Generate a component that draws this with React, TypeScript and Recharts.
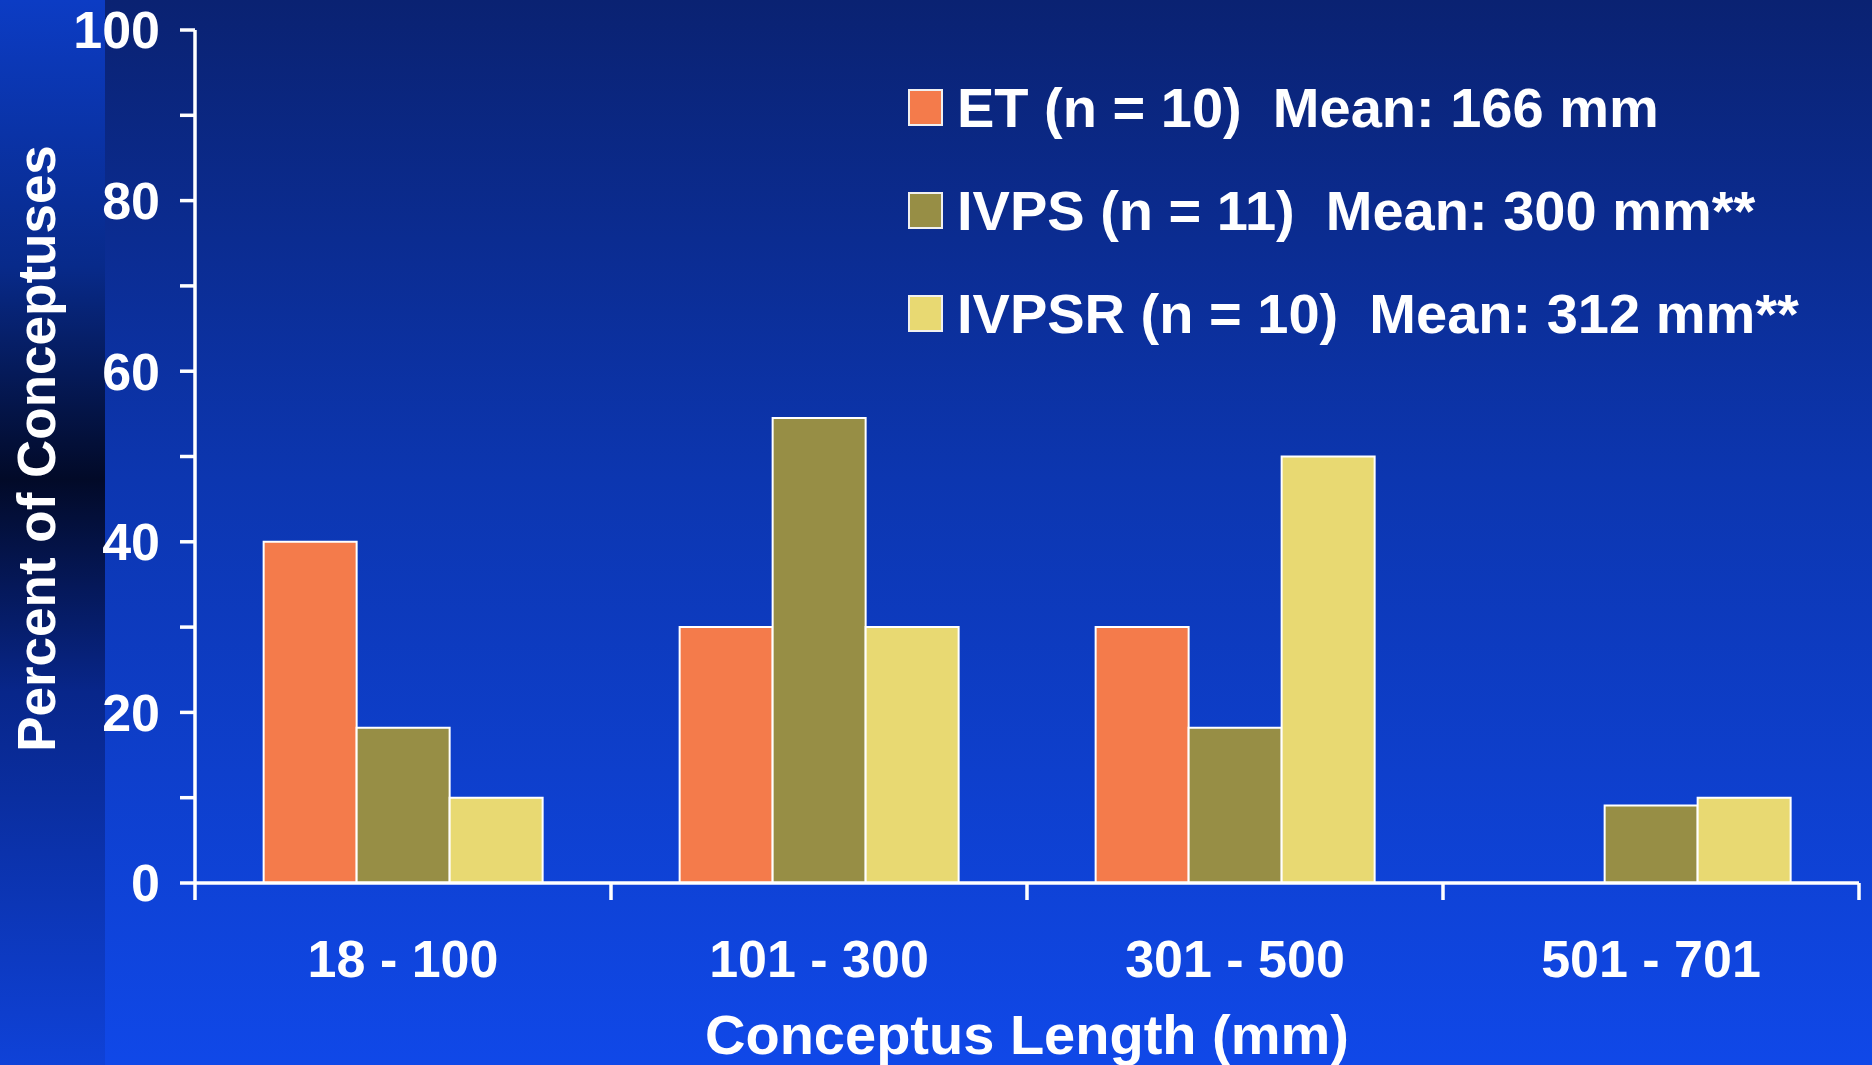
import React from 'react';
import { BarChart, Bar, XAxis, YAxis, Legend } from 'recharts';

const categories = ['18 - 100', '101 - 300', '301 - 500', '501 - 701'];
const etValues = [40, 30, 30, 0];
const ivpsValues = [18.2, 54.5, 18.2, 9.1];
const ivpsrValues = [10, 30, 50, 10];
const yTicks = [0, 10, 20, 30, 40, 50, 60, 70, 80, 90, 100];

const series = [
  { key: 'et', label: 'ET (n = 10)  Mean: 166 mm', color: '#F47B4B' },
  { key: 'ivps', label: 'IVPS (n = 11)  Mean: 300 mm**', color: '#978E45' },
  { key: 'ivpsr', label: 'IVPSR (n = 10)  Mean: 312 mm**', color: '#E8D972' },
];

const chartData = categories.map((name, i) => ({
  name,
  et: etValues[i],
  ivps: ivpsValues[i],
  ivpsr: ivpsrValues[i],
}));

const FONT = '"Liberation Sans", Arial, sans-serif';
const TICK_LEN = 17;
const LABEL_GAP = 57;
const AXIS = { stroke: '#ffffff', strokeWidth: 3.5 };

const LegendBox = () => (
  <div style={{ fontFamily: FONT }}>
    {series.map(s => (
      <div key={s.key} style={{ display: 'flex', alignItems: 'center', height: 103 }}>
        <div style={{ width: 31, height: 33, background: s.color, border: '2px solid #f0f0f0', marginRight: 14 }} />
        <span style={{ color: '#fff', fontSize: 56, fontWeight: 700, whiteSpace: 'pre', lineHeight: 1 }}>{s.label}</span>
      </div>
    ))}
  </div>
);

// category label at band centre, tick marks at the band edges
const CategoryTick = (props: any) => {
  const { x, y, payload, index, visibleTicksCount, width } = props;
  const half = payload && typeof payload.offset === 'number' && payload.offset > 0
    ? payload.offset
    : width / (2 * visibleTicksCount);
  const left = x - half;
  const right = x + half;
  return (
    <g>
      <line x1={left} x2={left} y1={y} y2={y + TICK_LEN} {...AXIS} />
      {index === visibleTicksCount - 1 && (
        <line x1={right} x2={right} y1={y} y2={y + TICK_LEN} {...AXIS} />
      )}
      <text x={x} y={y + LABEL_GAP} dy="0.71em" textAnchor="middle" fill="#fff"
        fontSize={52} fontWeight={700} fontFamily={FONT}>{payload.value}</text>
    </g>
  );
};

const App: React.FC = () => {
  return (
    <div style={{ position: 'absolute', left: 0, top: 0, width: 1872, height: 1065, overflow: 'hidden',
      background: 'linear-gradient(to bottom, #0a2272 0%, #0c36b0 45%, #1048e8 100%)', fontFamily: FONT }}>
      <div style={{ position: 'absolute', left: 0, top: 0, width: 105, height: 1065,
        background: 'linear-gradient(to bottom, #0c3cc4 0%, #082a8a 25%, #020a28 45%, #08268a 65%, #0f42d8 100%)' }} />
      <div style={{ position: 'absolute', left: 0, top: 0 }}>
        <BarChart width={1872} height={1065} data={chartData}
          margin={{ top: 30, right: 13, bottom: 0, left: 0 }}
          barCategoryGap="16.5%" barGap={0}>
          <XAxis dataKey="name" height={182} interval={0} stroke="#ffffff" axisLine={AXIS}
            tickLine={false} tickSize={0} tickMargin={0} tick={<CategoryTick />}
            label={{ value: 'Conceptus Length (mm)', position: 'insideBottom', offset: 11,
              style: { fill: '#fff', fontSize: 56, fontWeight: 700, fontFamily: FONT } }} />
          <YAxis width={195} domain={[0, 100]} ticks={yTicks} interval={0}
            stroke="#ffffff" axisLine={AXIS} tickLine={AXIS} tickSize={15} tickMargin={20}
            tickFormatter={(v: number) => (v % 20 === 0 ? String(v) : '')}
            tick={{ fill: '#fff', fontSize: 52, fontWeight: 700, fontFamily: FONT, stroke: 'none' }}
            label={{ value: 'Percent of Conceptuses', angle: -90, position: 'insideLeft', offset: 36, dy: -8,
              style: { textAnchor: 'middle', fill: '#fff', fontSize: 53, fontWeight: 700, fontFamily: FONT } }} />
          <Legend layout="vertical" align="center" verticalAlign="middle" content={<LegendBox />}
            wrapperStyle={{ position: 'absolute', left: 908, top: 56, width: 940 }} />
          {series.map(s => (
            <Bar key={s.key} dataKey={s.key} name={s.label} fill={s.color} stroke="#ffffff" strokeWidth={2}
              isAnimationActive={false} />
          ))}
        </BarChart>
      </div>
    </div>
  );
};

export default App;
